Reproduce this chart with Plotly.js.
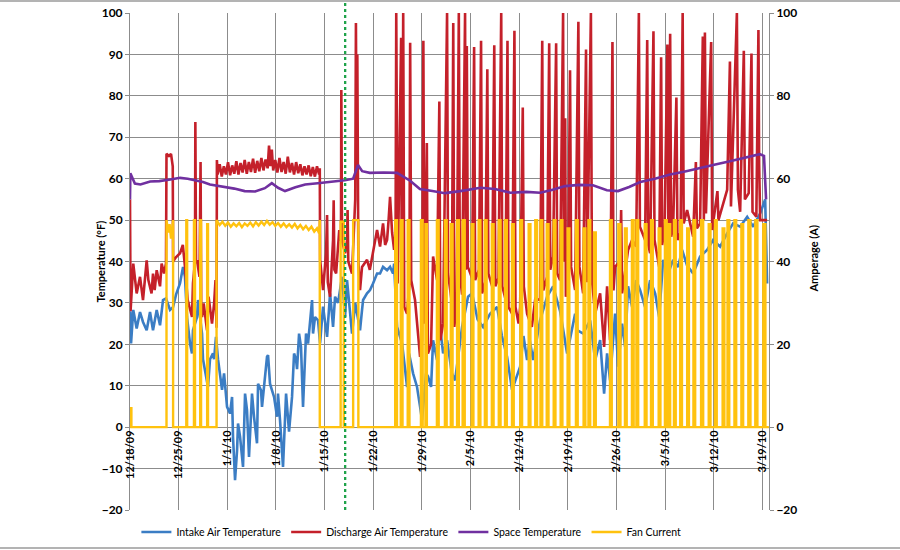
<!DOCTYPE html>
<html>
<head>
<meta charset="utf-8">
<script src="https://cdn.plot.ly/plotly-3.0.1.min.js"></script>
<style>
  html, body { margin: 0; padding: 0; background: #ffffff; }
  #chart { width: 900px; height: 550px; }
</style>
</head>
<body>
<div id="chart"></div>
<script>
// Readings are [days since 12/18/2009, value]

// Intake air temperature (°F)
const intakeReadings = [
  [0.05,28],[0.15,20.2],[0.47,28.3],[0.96,23.8],[1.44,27.8],[1.87,25.4],[2.4,23.4],[2.88,27.8],[3.31,23.4],[3.84,28.3],
  [4.32,24.6],[4.75,30.7],[5.18,31.1],[5.76,28.3],[6.19,29],[6.62,32],[7.19,34.7],[7.63,38.7],[7.91,36.3],[8.2,26.6],
  [8.63,20.2],[8.92,17.8],[9.06,23.4],[9.64,26.6],[9.78,30.7],[10.36,22.6],[10.5,16.4],[11.08,11.3],[11.22,9.7],[11.51,16.4],
  [11.94,17.8],[12.09,16.4],[12.37,21.8],[12.66,16.4],[13.09,11.3],[13.24,9],[13.53,13],[13.67,9.7],[13.96,4.9],[14.39,3.3],
  [14.68,7.3],[14.82,-2.3],[15.11,-12.8],[15.4,-5.6],[15.54,0.9],[15.83,-2.3],[16.26,-9.6],[16.55,8.1],[16.83,4.1],[17.12,-7.2],
  [17.55,8.1],[17.84,2.5],[18.27,-3.9],[18.42,10.5],[18.85,8.9],[18.99,4.9],[19.28,10.5],[19.71,17],[19.86,17.4],[20.14,10.5],
  [20.43,8.9],[20.72,7.3],[21.15,2.5],[21.29,8.1],[21.58,1.7],[22.01,-9.6],[22.45,8.1],[22.59,5.7],[22.88,-1.1],[23.31,7.3],
  [23.6,17.8],[23.88,16.4],[24.03,14],[24.32,22.6],[24.6,19.4],[24.89,4.9],[25.32,22.6],[25.61,20.2],[26.19,30.7],[26.33,22.6],
  [26.62,26.6],[27.05,25.8],[27.34,20.2],[27.77,29.1],[28.35,21.8],[28.78,32.3],[29.21,24.2],[29.5,31.5],[29.93,30],[30.5,36.3],
  [30.94,26.6],[31.22,35.5],[31.51,30.7],[31.94,22.6],[32.4,30],[33.09,23.4],[33.38,28.3],[33.53,30.7],[34.1,32.3],[34.53,33.1],
  [34.96,34.7],[35.54,37.1],[35.97,37.1],[36.4,38.7],[36.98,37.9],[37.41,38.7],[37.84,37.1],[37.99,39.5],[38.42,24.2],[39.14,20.2],
  [39.86,9.7],[40.14,17.8],[40.72,13],[41.29,9.7],[41.73,4.9],[42.01,1.7],[42.59,13],[42.88,12.2],[43.31,9.7],[43.6,21],
  [44.17,16.2],[44.6,24.2],[45.04,17.8],[45.61,21],[46.3,13],[46.76,11.3],[47.77,24.2],[48.63,31.5],[49.21,32.3],[50,26],
  [50.79,24.2],[51.8,27.4],[52.81,29],[53.5,22],[54.24,17],[54.96,9],[56.12,14.6],[56.6,22],[57.12,16.2],[57.5,21],
  [57.99,16.2],[58.99,25.8],[60,31.5],[60.86,34],[61.87,28],[62.88,17.8],[64.03,27.4],[64.32,23.4],[65.18,22.6],[66.19,25.8],
  [66.91,16.2],[67.63,21],[68.2,8.1],[68.63,17.8],[69.06,11.3],[69.78,27.4],[70.22,14.6],[70.79,25],[71.22,19.4],[71.65,34],
  [72.23,29],[72.81,35.5],[73.38,33.1],[74.1,29],[74.82,35.5],[75.54,32.3],[76.12,26.6],[76.69,40.4],[77.41,37.1],[78.13,40.4],
  [78.85,38.7],[79.42,42.8],[80.14,39],[81.01,37.1],[82.01,41.2],[83.02,42.8],[83.88,45.2],[84.89,43.6],[85.9,46.8],[86.76,49.2],
  [87.77,48.4],[88.78,50.8],[89.64,48.4],[90.65,51.6],[91.37,55],[91.65,34.7]
];

// Discharge air temperature (°F)
const dischargeReadings = [
  [0,55],[0.08,28],[0.47,39.5],[0.96,32.3],[1.44,36.3],[1.65,34],[1.87,30.7],[2.4,40.3],[2.64,35.5],[3.1,32.3],
  [3.31,37.1],[3.55,33.1],[3.84,37.9],[4.32,34],[4.55,39.5],[4.9,37.1],[5.18,39.5],[5.25,66],[5.6,65.5],[5.9,66],
  [6.15,63],[6.2,40],[6.6,41],[7.2,42],[7.6,44],[7.91,38.7],[8.3,30.7],[8.92,26.6],[9.06,34.7],[9.35,40],
  [9.4,73.7],[9.5,40],[9.64,40.3],[10,36.3],[10.15,64],[10.25,28],[10.36,26.6],[10.6,29.9],[11.08,23.4],[11.3,31.5],
  [11.8,25],[12.1,29.9],[12.3,35.5],[12.45,24],[12.5,64.5],
  [12.6,61],[12.9,63.5],[13.2,60.5],[13.5,63],[13.8,61],[14.1,64],[14.4,60.8],[14.7,63.2],[15,61.2],[15.3,64.2],
  [15.6,61],[15.9,63.8],[16.2,61.5],[16.5,64.5],[16.8,61.2],[17.1,64],[17.4,61.6],[17.7,64.8],[18,61.4],[18.3,64.3],
  [18.6,61.8],[18.9,65],[19.2,62],[19.5,64.6],[19.8,62.5],[20,68],[20.2,63],[20.4,67],[20.6,62],[20.9,64.5],
  [21.2,61.5],[21.5,65],[21.8,61.6],[22.1,64],[22.4,61.2],[22.7,65.3],[23,61.5],[23.3,63.8],[23.6,61],[23.9,64],
  [24.2,61.3],[24.5,63.5],[24.8,60.8],[25.1,63],[25.4,61],[25.7,63.2],[26,60.6],[26.3,62.8],[26.6,60.5],[26.9,63],
  [27.2,61],[27.3,62.5],[27.35,40.4],[27.77,33.1],[28.2,42],[28.35,51.2],[28.45,35],[28.78,31.5],[29.21,45.2],[29.3,54.8],
  [29.4,38],[29.65,37.1],[30.1,47.6],[30.35,45],[30.4,81.4],[30.5,45],[30.94,42],[31.22,45],[31.3,52.4],[31.4,40],
  [31.94,37.1],[32.4,55],[32.5,97.6],[32.6,60],[32.7,90],[32.85,40],[33.09,33.1],[33.38,38.7],[34.1,40.4],[34.5,38],
  [34.96,42],[35.54,47.6],[35.97,43.6],[36.4,49.2],[36.7,44],[36.98,45.2],[37.2,50],[37.41,55.6],[37.7,47],[37.99,42.8],
  [38.2,45],[38.3,100],[38.5,34.7],[39,94],[39.1,30],[39.3,100],[39.45,29],[39.86,27.4],[40.2,35],[40.3,92.8],
  [40.45,35.5],[41,30.7],[41.73,17],[42.01,21],[42.2,93.3],[42.35,25],[42.7,68.6],[42.85,17.8],[43.31,20],[43.6,41.2],
  [44.17,35.5],[44.5,78.6],[44.65,21],[45.04,25],[45.61,100],[45.75,37.1],[46.3,30],[46.5,97.6],[46.65,24.2],[47,30],
  [47.3,100],[47.45,37.1],[47.77,32],[48.2,100],[48.3,38],[48.45,92],[48.6,38.7],[49.21,36],[49.5,91.8],[49.65,35.5],
  [50.2,38],[50.5,93.3],[50.65,32.3],[51.1,35],[51.4,86.4],[51.55,37.1],[52.1,34],[52.4,92.2],[52.55,34],[53,36],
  [53.4,100],[53.55,34],[54,31],[54.3,93.3],[54.45,29],[54.96,27.4],[55.3,95.7],[55.45,29],[55.9,25],[56.12,29],
  [56.5,77.2],[56.65,34],[57.12,27.4],[57.8,24.2],[58.3,31],[58.99,30.7],[59.3,93.3],[59.45,33],[60,36.3],[60.3,92.7],
  [60.45,38],[60.86,41.2],[61.3,92.7],[61.45,37.1],[61.87,35.5],[62.3,100],[62.4,40],[62.6,74.6],[62.7,31.5],[63,34],
  [63.3,86.2],[63.45,38.7],[64.03,33.1],[64.5,97.9],[64.65,38.7],[65.18,32.3],[65.6,91.2],[65.75,35],[66.3,100],[66.45,35.5],
  [66.91,27.4],[67.63,32.3],[68.2,19.4],[68.63,34],[69.06,21],[69.4,93],[69.55,33],[69.78,38.7],[70.5,40],[70.65,52.4],
  [70.79,32.3],[71.22,38],[71.65,42.8],[72.23,45.2],[72.81,43.6],[73.2,100],[73.35,48.4],[74.1,45.2],[74.4,93.5],[74.55,44],
  [74.82,42],[75.3,95.6],[75.45,45.2],[76.12,38.7],[76.4,89.3],[76.55,44],[76.9,47.6],[77.3,92.4],[77.45,46],[77.7,95],
  [77.85,46],[78.13,48.4],[78.6,79.6],[78.75,45.2],[79.2,47],[79.5,100],[79.65,49.2],[80.14,52.4],[81.01,46],[81.4,64],
  [81.55,48],[82.01,49.2],[82.4,94.3],[82.55,50],[82.7,95.3],[82.85,51.6],[83.6,93],[83.75,47.6],[84.5,57],[84.65,50],
  [85.9,57.3],[86.3,88.3],[86.45,53.3],[87.3,100],[87.45,57.3],[87.77,52],[88.3,90.9],[88.45,55],[89,56.5],[89.4,90.2],
  [89.55,52],[90.1,50.8],[90.4,95.9],[90.5,63.7],[90.65,50],[91.37,50],[91.65,50]
];

// Space temperature (°F)
const spaceReadings = [
  [0,55],[0.05,61.3],[0.7,58.8],[1.5,58.6],[2.9,59.3],[4.2,59.4],[5.8,59.8],[7.2,60.2],[8.3,60],[9.4,59.6],
  [10.5,59.2],[11.5,58.6],[12.6,58.3],[13.7,58],[15,57.6],[16.5,57],[18,56.9],[19.4,57.7],[20.4,58.9],[21.3,57.8],
  [22.3,57],[23.8,57.9],[25.2,58.6],[27,58.9],[28.8,59.2],[30.9,59.6],[32.1,60],[32.8,63.3],[33.4,61.8],[34.5,61.4],
  [36.5,61.5],[38.4,61.4],[40.3,59.5],[41.7,57.5],[43.5,57],[45.3,56.5],[47.5,57],[50.4,57.8],[52.5,57.5],[54.7,56.6],
  [57,56.8],[59,56.6],[60.8,57.3],[62.6,58.2],[64.6,58.5],[66.6,58.4],[68.6,57.2],[70.2,57],[71.8,58],[73.4,59.2],
  [75.5,60],[77.7,61],[80,61.8],[82,62.5],[84.2,63.4],[86.3,64.2],[88.5,65],[90.6,65.9],[91.2,65.5],[91.5,55]
];

// Fan current (A): on-periods as [start day, stop day, amps]
const fanPulses = [
  [0,0.2,4.6],[5.25,6.2,50],[8.1,8.22,50],[9.2,9.35,50],[10.1,10.22,50],[11.1,11.22,49],[12.45,27.3,50],
  [30.3,30.75,49.6],[32.1,32.85,50],[38.15,38.4,50],[38.95,39.2,50],[39.95,40.2,50],[41.85,42.1,50],[42.5,42.7,49],
  [44.15,44.4,50],[45.3,45.55,50],[46.15,46.4,49],[47.05,47.3,50],[47.85,48.15,50],[49.15,49.4,49],[50.15,50.4,50],
  [51.05,51.3,50],[52.05,52.3,49],[53.05,53.3,50],[53.95,54.2,50],[54.95,55.2,49],[56.15,56.4,50],[57.35,57.6,49],
  [58.3,58.55,50],[59.05,59.3,50],[59.95,60.2,49],[60.95,61.2,50],[61.95,62.2,50],[62.95,63.2,48],[64.15,64.4,50],
  [65.25,65.5,48],[65.95,66.2,50],[66.75,67,47],[69.05,69.3,50],[70.25,70.55,49],[71.2,71.45,48],[72.2,72.45,50],
  [72.85,73.1,50],[74.05,74.3,49],[74.95,75.2,50],[76.05,76.3,48],[76.95,77.2,50],[77.5,77.7,49],[78.25,78.5,50],
  [79.15,79.4,50],[80.15,80.4,48],[81.05,81.3,50],[82.15,82.45,50],[83.25,83.5,49],[84.15,84.4,50],[85.25,85.5,48],
  [85.95,86.2,50],[86.95,87.2,50],[87.95,88.2,49],[88.95,89.25,50],[89.95,90.25,50],[91.1,91.4,49]
];

// Fan current while running for long stretches (A)
const fanPlateau = [
  [5.5,47],[5.7,49],[5.9,45.5],[6.1,48],
  [12.9,48.8],[13.3,49.6],[13.7,48.6],[14.1,49.4],[14.5,48.4],[14.9,49.2],[15.3,48.5],[15.7,49.3],[16.1,48.3],
  [16.5,49.2],[16.9,48.6],[17.3,49.4],[17.7,48.5],[18.1,49.5],[18.5,48.7],[18.9,49.6],[19.3,48.8],[19.7,49.8],
  [20.1,48.9],[20.5,49.5],[20.9,48.6],[21.3,49.3],[21.7,48.4],[22.1,49.2],[22.5,48.3],[22.9,49],[23.3,48.2],
  [23.7,49.1],[24.1,48],[24.5,48.8],[24.9,47.8],[25.3,48.6],[25.7,47.6],[26.1,48.4],[26.5,47.2],[26.9,48],[27.2,46.8]
];

// Day marked by the dotted green line
const markerDay = 30.95;

// Axis ticks
const tempTicks = [-20, -10, 0, 10, 20, 30, 40, 50, 60, 70, 80, 90, 100];
const ampTicks = [-20, 0, 20, 40, 60, 80, 100];

const START_MS = Date.UTC(2009, 11, 18);
function dayToDate(d) {
  return new Date(START_MS + d * 86400000).toISOString().replace('T', ' ').slice(0, 19);
}
function split(readings) {
  return { x: readings.map(r => dayToDate(r[0])), y: readings.map(r => r[1]) };
}

// Square-wave fan trace: zero between on-periods
const fanPts = [];
fanPulses.forEach(([s, e, a]) => {
  fanPts.push([s, 0], [s, a]);
  fanPlateau.filter(p => p[0] > s && p[0] < e).forEach(p => fanPts.push(p));
  fanPts.push([e, a], [e, 0]);
});
fanPts.push([91.9, 0]);

const intake = split(intakeReadings);
const discharge = split(dischargeReadings);
const space = split(spaceReadings);
const fan = split(fanPts);

const FONT = 'Lato, "Open Sans", sans-serif';
const GRID = '#8c8c8c';
const LW = 2.6;

const traces = [
  { x: intake.x, y: intake.y, name: 'Intake Air Temperature', type: 'scatter', mode: 'lines',
    line: { color: '#3b7dc4', width: LW } },
  { x: discharge.x, y: discharge.y, name: 'Discharge Air Temperature', type: 'scatter', mode: 'lines',
    line: { color: '#c4202a', width: LW } },
  { x: space.x, y: space.y, name: 'Space Temperature', type: 'scatter', mode: 'lines',
    line: { color: '#7030a0', width: LW } },
  { x: fan.x, y: fan.y, name: 'Fan Current', type: 'scatter', mode: 'lines', yaxis: 'y2',
    line: { color: '#ffc20e', width: 2.4 } }
];

const titleFont = { family: FONT, size: 11, color: '#000', weight: 'bold' };

const layout = {
  width: 900, height: 550,
  margin: { l: 130, r: 131, t: 13, b: 40, autoexpand: false },
  paper_bgcolor: '#ffffff', plot_bgcolor: '#ffffff',
  font: { family: FONT, color: '#000' },
  showlegend: true,
  legend: {
    orientation: 'h', x: 0.01, xanchor: 'left', y: -0.0443, yanchor: 'middle',
    font: { family: FONT, size: 10.5, color: '#000' }, traceorder: 'normal', bgcolor: 'rgba(0,0,0,0)'
  },
  xaxis: {
    type: 'date',
    range: [dayToDate(0), dayToDate(91.92)],
    anchor: 'free', position: 20 / 120,
    tick0: dayToDate(0), dtick: 7 * 86400000, tickformat: '%-m/%-d/%y', tickangle: -90,
    showgrid: true, gridcolor: GRID, gridwidth: 1, zeroline: false, showline: false, ticks: '',
    tickfont: { family: FONT, size: 11, color: '#000', weight: 'bold' }
  },
  yaxis: {
    range: [-20, 100], tickmode: 'array', tickvals: tempTicks,
    showgrid: true, gridcolor: GRID, gridwidth: 1, zeroline: false,
    showline: true, linecolor: GRID, linewidth: 1, ticks: 'outside', ticklen: 4, tickcolor: GRID,
    tickfont: { family: FONT, size: 12, color: '#000', weight: 'bold' }
  },
  yaxis2: {
    overlaying: 'y', side: 'right', range: [-20, 100], tickmode: 'array', tickvals: ampTicks,
    showgrid: false, zeroline: false, showline: true, linecolor: GRID, linewidth: 1,
    ticks: 'outside', ticklen: 4, tickcolor: GRID,
    tickfont: { family: FONT, size: 12, color: '#000', weight: 'bold' }
  },
  annotations: [
    { text: 'Temperature (°F)', xref: 'paper', yref: 'paper', x: -0.0454, y: 0.5, textangle: -90,
      xanchor: 'center', yanchor: 'middle', showarrow: false, font: titleFont },
    { text: 'Amperage (A)', xref: 'paper', yref: 'paper', x: 1.0689, y: 0.506, textangle: -90,
      xanchor: 'center', yanchor: 'middle', showarrow: false, font: titleFont }
  ],
  shapes: [
    { type: 'line', xref: 'x', yref: 'paper', x0: dayToDate(markerDay), x1: dayToDate(markerDay), y0: 0, y1: 1.026,
      line: { color: '#1fa34a', width: 2.3, dash: 'dot' }, layer: 'above' },
    { type: 'line', xref: 'paper', yref: 'paper', x0: -0.25, x1: 1.25, y0: 1.024, y1: 1.024,
      line: { color: '#9a9a9a', width: 1.5 } },
    { type: 'line', xref: 'paper', yref: 'paper', x0: -0.25, x1: 1.25, y0: -0.0765, y1: -0.0765,
      line: { color: '#9a9a9a', width: 1.5 } }
  ]
};

Plotly.newPlot('chart', traces, layout, { displayModeBar: false, staticPlot: true });
</script>
</body>
</html>
